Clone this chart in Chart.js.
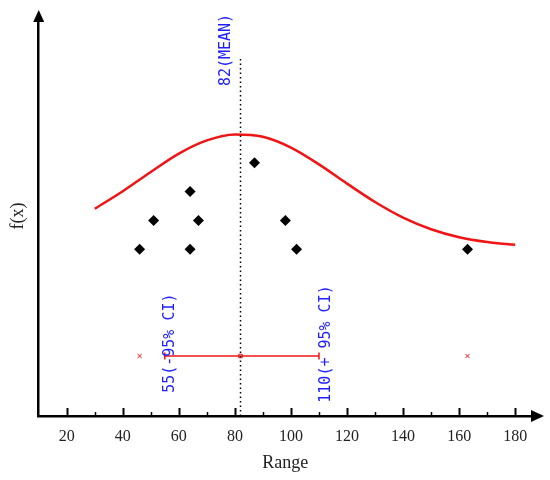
<!DOCTYPE html>
<html>
<head>
<meta charset="utf-8">
<script src="https://cdn.jsdelivr.net/npm/chart.js@4.4.1/dist/chart.umd.min.js"></script>
<style>
  html, body { margin: 0; padding: 0; background: #fff; }
  #wrap { width: 550px; height: 480px; }
</style>
</head>
<body>
<div id="wrap"><canvas id="c" width="550" height="480"></canvas></div>
<script>
// fitted normal curve, every 10 units
var curveX = [30, 40, 50, 60, 70, 80, 90, 100, 110, 120, 130, 140, 150, 160, 170, 180];
var curveY = [51.8, 56.2, 61.0, 65.6, 68.9, 70.4, 69.8, 67.1, 62.9, 58.1, 53.5, 49.6, 46.7, 44.7, 43.5, 42.8];

// sample points (stacked dot plot)
var dotX = [46, 51, 64, 67, 64, 87, 98, 102, 163];
var dotY = [41.7, 48.9, 56.1, 48.9, 41.7, 63.3, 48.9, 41.7, 41.7];

var meanX = 82;
var meanTop = 89.8;
var ciLow = 55;
var ciHigh = 110;
var ciY = 15;
var outlierX = [46, 163];

var majorTicks = [20, 40, 60, 80, 100, 120, 140, 160, 180];
var minorTicks = [30, 50, 70, 90, 110, 130, 150, 170];

var meanLabel = meanX + "(MEAN)";
var ciLowLabel = ciLow + "(-95% CI)";
var ciHighLabel = ciHigh + "(+ 95% CI)";

function pts(xs, ys) {
  return xs.map(function (x, i) { return { x: x, y: ys[i] }; });
}

var BLUE = "#2020ff";
var RED = "#f01414";

// arrows, inward ticks and blue labels
var decor = {
  id: "decor",
  afterDraw: function (chart) {
    var ctx = chart.ctx;
    var a = chart.chartArea;
    var xs = chart.scales.x;
    var ys = chart.scales.y;
    ctx.save();
    ctx.fillStyle = "#000";
    ctx.strokeStyle = "#000";

    // x arrow
    ctx.beginPath();
    ctx.moveTo(a.right + 12, a.bottom);
    ctx.lineTo(a.right - 1, a.bottom - 6);
    ctx.lineTo(a.right - 1, a.bottom + 6);
    ctx.closePath();
    ctx.fill();
    // y arrow
    ctx.beginPath();
    ctx.moveTo(a.left, a.top - 6);
    ctx.lineTo(a.left - 5.5, a.top + 6);
    ctx.lineTo(a.left + 5.5, a.top + 6);
    ctx.closePath();
    ctx.fill();

    // ticks pointing inward
    ctx.lineWidth = 2;
    majorTicks.forEach(function (v) {
      var px = Math.round(xs.getPixelForValue(v)) + 0.5;
      ctx.beginPath();
      ctx.moveTo(px, a.bottom);
      ctx.lineTo(px, a.bottom - 8);
      ctx.stroke();
    });
    ctx.lineWidth = 1.5;
    minorTicks.forEach(function (v) {
      var px = Math.round(xs.getPixelForValue(v)) + 0.5;
      ctx.beginPath();
      ctx.moveTo(px, a.bottom);
      ctx.lineTo(px, a.bottom - 4);
      ctx.stroke();
    });

    // rotated blue labels
    ctx.fillStyle = BLUE;
    ctx.font = "15px 'DejaVu Sans Mono'";
    ctx.textAlign = "center";
    ctx.textBaseline = "middle";
    function vtext(t, x, y) {
      ctx.save();
      ctx.translate(x, y);
      ctx.rotate(-Math.PI / 2);
      ctx.fillText(t, 0, 0);
      ctx.restore();
    }
    vtext(meanLabel, xs.getPixelForValue(meanX) - 14, ys.getPixelForValue(91.5));
    vtext(ciLowLabel, xs.getPixelForValue(ciLow) + 5, ys.getPixelForValue(18.2));
    vtext(ciHighLabel, xs.getPixelForValue(ciHigh) + 7, ys.getPixelForValue(18));
    ctx.restore();
  }
};

new Chart(document.getElementById("c"), {
  type: "scatter",
  data: {
    datasets: [
      {
        label: "mean",
        data: [{ x: meanX, y: 0 }, { x: meanX, y: meanTop }],
        showLine: true,
        borderColor: "#000",
        borderWidth: 1.5,
        borderDash: [1.5, 3],
        pointRadius: 0
      },
      {
        label: "f(x)",
        data: pts(curveX, curveY),
        showLine: true,
        borderColor: RED,
        borderWidth: 2.5,
        tension: 0.4,
        cubicInterpolationMode: "monotone",
        pointRadius: 0
      },
      {
        label: "samples",
        data: pts(dotX, dotY),
        pointStyle: "rectRot",
        pointRadius: 5.5,
        backgroundColor: "#000",
        borderColor: "#000",
        borderWidth: 0
      },
      {
        label: "CI",
        data: [{ x: ciLow, y: ciY }, { x: ciHigh, y: ciY }],
        showLine: true,
        borderColor: RED,
        borderWidth: 1.5,
        pointStyle: "line",
        rotation: 90,
        pointRadius: 3.5,
        pointBorderColor: RED,
        pointBorderWidth: 1.5
      },
      {
        label: "center",
        data: [{ x: meanX, y: ciY }],
        pointStyle: "rect",
        pointRadius: 2.5,
        backgroundColor: "rgba(0,0,0,0)",
        borderColor: RED,
        borderWidth: 1
      },
      {
        label: "outliers",
        data: outlierX.map(function (x) { return { x: x, y: ciY }; }),
        pointStyle: "crossRot",
        pointRadius: 3,
        borderColor: RED,
        borderWidth: 1
      }
    ]
  },
  options: {
    responsive: false,
    animation: false,
    layout: { padding: { left: 0, right: 18, top: 16, bottom: 0 } },
    plugins: {
      legend: { display: false },
      tooltip: { enabled: false }
    },
    scales: {
      x: {
        type: "linear",
        min: 10,
        max: 186,
        afterFit: function (s) { s.height = 64; },
        afterBuildTicks: function (s) {
          s.ticks = majorTicks.map(function (v) { return { value: v }; });
        },
        border: { display: true, color: "#000", width: 2.5 },
        grid: { display: true, drawOnChartArea: false, drawTicks: false },
        ticks: {
          autoSkip: false,
          maxRotation: 0,
          padding: 11,
          color: "#222",
          font: { family: "'Liberation Serif'", size: 16 }
        },
        title: {
          display: true,
          text: "Range",
          color: "#222",
          font: { family: "'Liberation Serif'", size: 18 },
          padding: { top: 2, bottom: 6 }
        }
      },
      y: {
        type: "linear",
        min: 0,
        max: 100,
        afterFit: function (s) { s.width = 38.7; },
        border: { display: true, color: "#000", width: 2.5 },
        grid: { display: true, drawOnChartArea: false, drawTicks: false },
        ticks: { display: false },
        title: {
          display: true,
          text: "f(x)",
          color: "#222",
          font: { family: "'Liberation Serif'", size: 18 },
          padding: { top: 7, bottom: 0 }
        }
      }
    }
  },
  plugins: [decor]
});
</script>
</body>
</html>
